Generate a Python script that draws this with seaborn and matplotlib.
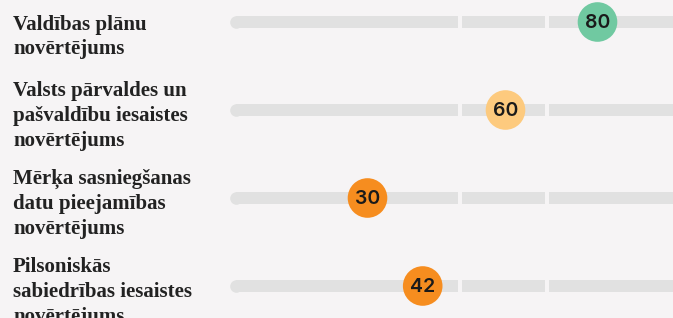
import pandas as pd
import matplotlib.pyplot as plt
import matplotlib.transforms as mtransforms
import seaborn as sns


# Data

labels = [
    "Valdības plānu\nnovērtējums",
    "Valsts pārvaldes un\npašvaldību iesaistes\nnovērtējums",
    "Mērķa sasniegšanas\ndatu pieejamības\nnovērtējums",
    "Pilsoniskās\nsabiedrības iesaistes\nnovērtējums",
]
scores = [80, 60, 30, 42]
band_edges = [0, 50, 69, 100]
band_names = ["low", "mid", "high"]
band_colors = {"low": "#f68d1f", "mid": "#fdca7e", "high": "#70c9a1"}

df = pd.DataFrame({"label": labels, "score": scores, "row": range(len(labels))})
df["band"] = pd.cut(df["score"], bins=band_edges, labels=band_names, right=False).astype(str)


# Figure

sns.set_theme(style="white", rc={"axes.facecolor": "#f6f4f5", "figure.facecolor": "#f6f4f5"})

W, H, DPI = 673, 318, 100
fig = plt.figure(figsize=(W / DPI, H / DPI), dpi=DPI)
ax = fig.add_axes([0, 0, 1, 1])

px_per_unit = 4.6
x_zero = 229.5
ax.set_xlim(-x_zero / px_per_unit, (W - x_zero) / px_per_unit)
row_gap = 88
first_row = 22
ax.set_ylim((H - first_row) / row_gap, -first_row / row_gap)
ax.axis("off")

track_h = 12.6 / row_gap
gap = 4 / px_per_unit
cap_r = 6.3 / px_per_unit
track_color = "#e1e1e1"

# Tracks
for r in df["row"]:
    for i in range(len(band_edges) - 1):
        start = band_edges[i] + (cap_r if i == 0 else gap / 2)
        end = band_edges[i + 1] - gap / 2
        ax.barh(r, end - start, left=start, height=track_h, color=track_color, linewidth=0)
    ax.plot(band_edges[0] + cap_r, r, marker="o", markersize=12.6 * 72 / DPI,
            color=track_color, markeredgewidth=0)

# Score circles
sns.scatterplot(data=df, x="score", y="row", hue="band", palette=band_colors,
                s=(39.6 * 72 / DPI) ** 2, linewidth=0, legend=False, ax=ax, zorder=5)

for _, d in df.iterrows():
    ax.annotate(str(d["score"]), xy=(d["score"], d["row"]), xytext=(0, -1),
                textcoords="offset pixels", ha="center", va="center",
                fontsize=14, family=["Inter", "DejaVu Sans"], fontweight="semibold",
                color="#1a1a1a", zorder=6)

# Row labels
trans = mtransforms.blended_transform_factory(fig.transFigure, ax.transData)
for _, d in df.iterrows():
    nlines = d["label"].count("\n") + 1
    ax.annotate(d["label"], xy=(13 / W, d["row"]), xycoords=trans,
                xytext=(0, -6 - 9 * (3 - nlines)), textcoords="offset pixels",
                ha="left", va="center", fontsize=15, linespacing=1.33,
                family=["Liberation Serif", "DejaVu Serif"], fontweight="bold",
                color="#222222")

plt.savefig("out.png", dpi=DPI, facecolor=fig.get_facecolor())
